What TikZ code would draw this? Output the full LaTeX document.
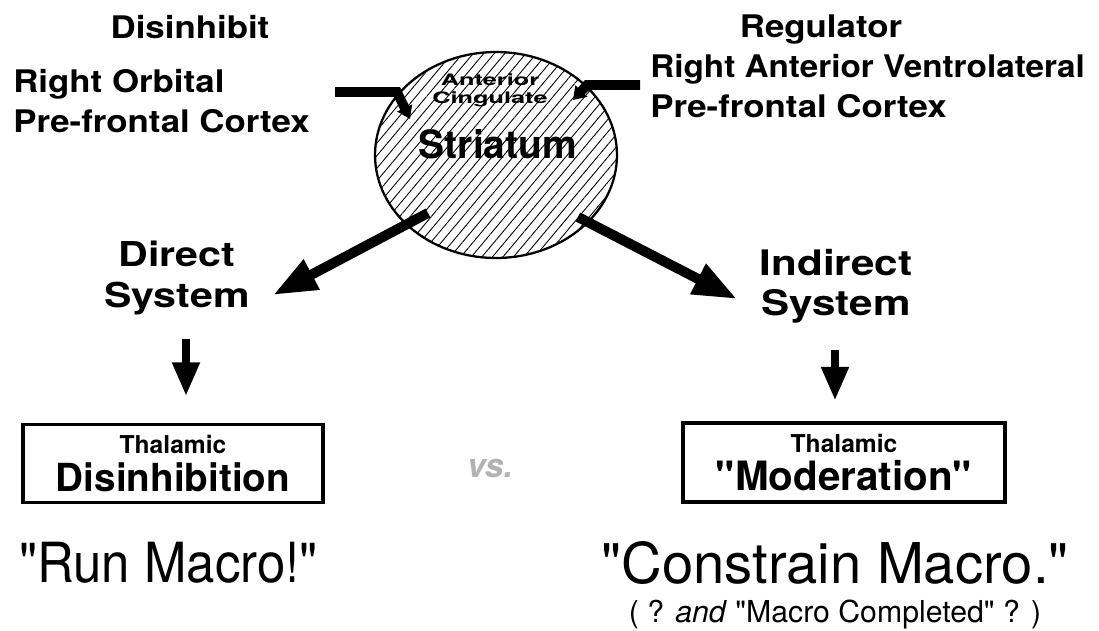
\documentclass[tikz,border=0pt]{standalone}
\usepackage{fontspec}
\setmainfont{TeX Gyre Heros}
\newfontfamily\helv{TeX Gyre Heros}
\newfontfamily\widefont{TeX Gyre Heros}[FakeStretch=1.12]
\newfontfamily\ravfont{TeX Gyre Heros}[FakeStretch=1.07]
\newfontfamily\sysfont{TeX Gyre Heros}[FakeStretch=1.2]
\newfontfamily\accfont{TeX Gyre Heros}[FakeStretch=1.6]
\newfontfamily\runfont{TeX Gyre Heros}[FakeStretch=0.92]
\usetikzlibrary{arrows.meta,shapes.geometric,patterns.meta}
\tikzset{
  region/.style={font=\widefont\bfseries\fontsize{17.7}{22.6}\selectfont, inner sep=0pt, align=left},
  system/.style={font=\sysfont\bfseries\fontsize{19.5}{22.8}\selectfont, inner sep=0pt, align=center},
  thbox/.style={draw, line width=2pt, inner sep=0pt, align=center,
    font=\helv\bfseries\fontsize{14}{21.6}\selectfont},
  bigarr/.style={line width=5.7pt, -{Triangle[length=25pt,width=18pt]}},
  downarr/.style={line width=4pt, -{Triangle[length=19pt,width=15pt]}},
  inhib/.style={line width=5.5pt, -{Triangle[length=7pt,width=9pt]}},
  outcome/.style={font=\helv\fontsize{32}{36}\selectfont, inner sep=0pt, anchor=base}
}

\begin{document}
\begin{tikzpicture}[x=0.02cm,y=-0.02cm]
  \useasboundingbox (0,0) rectangle (1099,630);
  % the striatum
  \node[ellipse, draw, line width=1.3pt, minimum width=4.84cm, minimum height=4.12cm, inner sep=0pt,
        pattern={Lines[angle=50,distance=4.6pt,line width=0.5pt]}] (str) at (496,155) {};
  \node[font=\accfont\bfseries\fontsize{9}{10.2}\selectfont, align=center, inner sep=0pt, anchor=base]
        (acc) at (490,103) {Anterior\\Cingulate};
  \node[font=\helv\bfseries\fontsize{22.2}{26}\selectfont, inner sep=0pt, anchor=base] (stt) at (498,158) {Striatum};

  % cortical inputs
  \node[region, anchor=base] (dis) at (190,38) {Disinhibit};
  \node[region, anchor=base west] (orb) at (13,132) {Right Orbital\\Pre-frontal Cortex};
  \node[region, anchor=base] (regl) at (821,37) {Regulator};
  \node[region, anchor=base west] (rav) at (650,117)
        {{\ravfont Right Anterior Ventrolateral}\\Pre-frontal Cortex};
  \coordinate (orbin) at (335,92);
  \coordinate (ravin) at (640,85);
  \draw[inhib] (orbin) -- ++(62,0) -- ([shift={(-86,-36)}]str.center);
  \draw[inhib] (ravin) -- ++(-53,0) -- ([shift={(77,-55)}]str.center);

  % two output systems
  \node[system, anchor=base] (dsys) at (177,307) {Direct\\System};
  \node[system, anchor=base, font=\sysfont\bfseries\fontsize{20}{22.3}\selectfont] (isys) at (836,315) {Indirect\\System};
  \coordinate (dtip) at (273,295);
  \coordinate (itip) at (737,299);
  \draw[bigarr] ([shift={(-68,58)}]str.center) -- (dtip);
  \draw[bigarr] ([shift={(82,62)}]str.center) -- (itip);

  % thalamic boxes
  \node[thbox, minimum width=6cm, minimum height=1.56cm] (dbox) at (173,463.5)
        {Thalamic\\{\fontsize{22}{21.6}\selectfont Disinhibition}};
  \node[thbox, minimum width=6.44cm, minimum height=1.58cm] (ibox) at (844,462.5)
        {Thalamic\\{\fontsize{23}{21.6}\selectfont "Moderation"}};
  \draw[downarr] ([shift={(9,24)}]dsys.south) -- ([shift={(13,-27)}]dbox.north);
  \draw[downarr] ([shift={(-1,27)}]isys.south) -- ([shift={(-9,-21)}]ibox.north);
  \node[font=\helv\bfseries\itshape\fontsize{19}{22}\selectfont, text=gray!60, inner sep=0pt] (vs) at (490,468) {vs.};

  % what each one does
  \node[outcome, font=\runfont\fontsize{31.5}{36}\selectfont] (run) at (168.5,582) {"Run Macro!"};
  \node[outcome] (con) at (835,583) {"Constrain Macro."};
  \node[font=\helv\fontsize{17.2}{20}\selectfont, inner sep=0pt, anchor=base] (cmp) at (835,622)
        {( ? \textit{and} "Macro Completed" ? )};
\end{tikzpicture}
\end{document}
